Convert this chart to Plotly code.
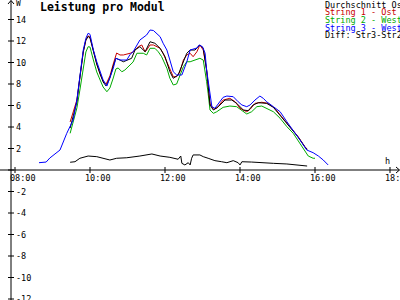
import plotly.graph_objects as go

# ---------------- data (time in decimal hours, power in W) ----------------
avg_t = [9.47, 9.55, 9.65, 9.73, 9.82, 9.89, 9.95, 10.0, 10.09, 10.18, 10.27, 10.35, 10.43, 10.53, 10.62,
         10.69, 10.8, 10.89, 11.11, 11.2, 11.33, 11.47, 11.6, 11.73, 11.87, 12.0, 12.13, 12.22, 12.35,
         12.49, 12.58, 12.67, 12.8, 12.93, 13.02, 13.11, 13.15, 13.2, 13.29, 13.42, 13.6, 13.78, 13.91,
         14.09, 14.22, 14.35, 14.49, 14.71, 14.89, 15.11, 15.33, 15.55, 15.73, 15.79]
avg_v = [3.9, 5.0, 6.33, 8.65, 10.98, 12.09, 12.42, 12.28, 10.98, 9.86, 8.93, 8.19, 7.81, 8.56, 9.67,
         10.39, 10.23, 10.07, 10.39, 11.16, 11.47, 11.0, 11.93, 11.79, 11.32, 10.54, 9.14, 8.53, 8.84,
         10.07, 10.86, 11.16, 11.16, 11.63, 11.32, 9.3, 7.81, 6.05, 5.58, 5.89, 6.51, 6.51, 6.2,
         5.58, 5.52, 6.05, 6.26, 6.2, 5.83, 4.93, 4.0, 3.07, 2.14, 1.9]

s1_t = [9.47, 9.55, 9.65, 9.73, 9.82, 9.89, 9.95, 10.0, 10.09, 10.18, 10.27, 10.35, 10.43, 10.53, 10.62,
        10.71, 10.8, 10.89, 11.07, 11.15, 11.25, 11.29, 11.38, 11.47, 11.51, 11.6, 11.69, 11.78, 11.87,
        11.95, 12.05, 12.13, 12.22, 12.31, 12.4, 12.49, 12.58, 12.67, 12.75, 12.85, 12.93, 13.02, 13.11,
        13.15, 13.2, 13.29, 13.38, 13.55, 13.73, 13.87, 14.0, 14.18, 14.27, 14.4, 14.58, 14.75, 14.93,
        15.11, 15.33, 15.55, 15.73, 15.79]
s1_v = [4.47, 5.4, 6.51, 8.56, 10.98, 12.09, 12.47, 12.37, 10.98, 9.86, 8.93, 8.28, 8.0, 8.74, 9.86,
        10.88, 10.7, 10.7, 10.86, 10.98, 11.35, 11.47, 11.63, 11.0, 11.16, 11.63, 11.63, 11.47, 11.32,
        10.86, 10.07, 9.3, 8.68, 8.68, 9.14, 10.23, 10.7, 10.86, 10.54, 11.0, 11.63, 11.16, 9.3,
        7.91, 6.2, 5.65, 5.74, 6.51, 6.67, 6.35, 5.74, 5.42, 5.65, 6.2, 6.3, 6.2, 5.74,
        4.96, 4.03, 3.1, 2.17, 1.95]

s2_t = [9.47, 9.55, 9.65, 9.73, 9.82, 9.89, 9.95, 10.0, 10.09, 10.18, 10.27, 10.35, 10.45, 10.53, 10.62,
        10.69, 10.75, 10.85, 10.93, 11.07, 11.15, 11.25, 11.42, 11.51, 11.6, 11.73, 11.82, 11.91, 12.05,
        12.13, 12.22, 12.31, 12.4, 12.49, 12.58, 12.67, 12.8, 12.93, 13.02, 13.07, 13.11, 13.15, 13.2,
        13.29, 13.38, 13.55, 13.73, 13.91, 14.09, 14.18, 14.31, 14.45, 14.58, 14.71, 14.89, 15.07,
        15.25, 15.42, 15.6, 15.73, 15.82, 15.95, 16.0]
s2_v = [3.41, 4.47, 5.77, 7.44, 9.61, 10.98, 11.47, 11.44, 10.23, 9.12, 8.37, 7.72, 7.28, 7.63, 8.56,
        9.4, 9.49, 9.14, 9.3, 9.77, 10.05, 10.86, 10.86, 10.7, 11.32, 11.32, 11.0, 10.54, 9.46,
        8.53, 7.91, 8.0, 8.84, 9.61, 10.07, 10.07, 10.23, 10.39, 10.23, 9.3, 8.21, 7.13, 5.58,
        5.27, 5.42, 5.83, 5.95, 5.89, 5.42, 5.21, 5.42, 5.89, 5.95, 5.74, 5.42, 4.81,
        4.03, 3.41, 2.48, 1.7, 1.3, 1.09, 1.09]

s3_t = [8.64, 8.83, 8.93, 9.2, 9.38, 9.55, 9.65, 9.73, 9.82, 9.89, 9.95, 10.0, 10.09, 10.18, 10.27,
        10.35, 10.45, 10.53, 10.62, 10.69, 10.8, 10.98, 11.07, 11.15, 11.25, 11.33, 11.51, 11.6, 11.69,
        11.78, 11.87, 11.95, 12.05, 12.13, 12.22, 12.31, 12.45, 12.58, 12.67, 12.85, 12.91, 13.0, 13.07,
        13.11, 13.15, 13.2, 13.25, 13.33, 13.42, 13.55, 13.65, 13.82, 13.95, 14.05, 14.18, 14.27, 14.4,
        14.53, 14.62, 14.71, 14.89, 15.07, 15.25, 15.42, 15.6, 15.78, 15.95, 16.09, 16.22, 16.35]
s3_v = [0.68, 0.74, 1.12, 1.86, 3.41, 4.65, 6.51, 8.84, 11.16, 12.25, 12.72, 12.62, 11.16, 10.07, 9.14,
        8.37, 7.81, 8.53, 9.46, 10.39, 10.23, 10.23, 10.76, 11.0, 11.63, 12.09, 12.56, 13.02, 12.98,
        12.72, 12.4, 11.79, 11.16, 10.23, 9.14, 8.84, 8.84, 10.05, 11.16, 11.35, 11.63, 11.47, 10.86,
        9.3, 8.21, 6.82, 5.89, 5.74, 6.2, 6.76, 6.88, 6.82, 6.35, 6.05, 5.89, 6.05, 6.51,
        6.88, 6.67, 6.35, 5.89, 5.42, 4.49, 3.72, 2.79, 1.86, 1.61, 1.3, 0.93, 0.47]

diff_t = [9.47, 9.6, 9.73, 9.95, 10.18, 10.35, 10.53, 10.71, 10.98, 11.33, 11.65, 11.87, 12.13, 12.35,
          12.42, 12.45, 12.53, 12.62, 12.67, 12.71, 12.75, 12.93, 13.02, 13.15, 13.33, 13.51, 13.65,
          13.82, 13.95, 14.0, 14.05, 14.31, 14.53, 14.89, 15.25, 15.6, 15.79]
diff_v = [0.72, 0.77, 1.09, 1.3, 1.24, 1.09, 0.93, 1.09, 1.14, 1.3, 1.49, 1.3, 1.18, 1.0,
          1.3, 0.62, 0.47, 0.68, 0.47, 1.09, 1.4, 1.4, 1.24, 1.09, 0.87, 0.77, 0.68,
          0.87, 0.68, 0.47, 0.77, 0.74, 0.68, 0.62, 0.56, 0.47, 0.37]

x_ticks = [8, 10, 12, 14, 16, 18]
x_labels = ["08:00", "10:00", "12:00", "14:00", "16:00", "18:00"]
y_ticks = [-12, -10, -8, -6, -4, -2, 0, 2, 4, 6, 8, 10, 12, 14]

legend_names = ["Durchschnitt Ost", "String 1 - Ost", "String 2 - West", "String 3 - West", "Diff: Str3-Str2"]
legend_colors = ["#000000", "#c80000", "#00aa00", "#0000ff", "#000000"]
title = "Leistung pro Modul"

# ---------------- layout geometry ----------------
W, H = 400, 300
PX_PER_H = 37.5
PX_PER_W = 10.75
X0 = 7.6                      # hours at left page edge
Y_TOP = 15.814                # W at top page edge
XR = [X0, X0 + W / PX_PER_H]
YR = [Y_TOP - H / PX_PER_W, Y_TOP]
AXIS_X = X0 + 11 / PX_PER_H   # y-axis position (hours)

FONT = "DejaVu Sans Mono"

fig = go.Figure()
series = [(avg_t, avg_v, legend_colors[0]), (s1_t, s1_v, legend_colors[1]),
          (s2_t, s2_v, legend_colors[2]), (s3_t, s3_v, legend_colors[3]),
          (diff_t, diff_v, legend_colors[4])]
# draw order: green, red, black, blue on top roughly
for idx in [2, 1, 0, 3, 4]:
    t, v, c = series[idx]
    fig.add_trace(go.Scatter(x=t, y=v, mode="lines", line=dict(color=c, width=1),
                             hoverinfo="skip", showlegend=False))

shapes = []
# axes lines
shapes.append(dict(type="line", xref="x", yref="y", x0=AXIS_X, x1=AXIS_X, y0=YR[0], y1=YR[1] - 0.05,
                   line=dict(color="black", width=1)))
shapes.append(dict(type="line", xref="x", yref="y", x0=XR[0], x1=XR[1] - 0.02, y0=0, y1=0,
                   line=dict(color="black", width=1)))
# arrowheads
shapes.append(dict(type="path", xref="paper", yref="paper",
                   path=f"M {8/W} {1-4/H} L {11/W} {1-0.5/H} L {14/W} {1-4/H}",
                   line=dict(color="black", width=1)))
y0px = (Y_TOP - 0) * PX_PER_W
shapes.append(dict(type="path", xref="paper", yref="paper",
                   path=f"M {396/W} {1-(y0px-3)/H} L {399.5/W} {1-y0px/H} L {396/W} {1-(y0px+3)/H}",
                   line=dict(color="black", width=1)))
# y ticks
for v in y_ticks:
    shapes.append(dict(type="line", xref="paper", yref="y", x0=8 / W, x1=14 / W, y0=v, y1=v,
                       line=dict(color="black", width=1)))
# x ticks
for t in x_ticks:
    shapes.append(dict(type="line", xref="x", yref="y", x0=t, x1=t,
                       y0=-3 / PX_PER_W, y1=3 / PX_PER_W, line=dict(color="black", width=1)))

ann = []
for v in y_ticks:
    if v == 0:
        continue
    ann.append(dict(x=AXIS_X + 3.5 / PX_PER_H, y=v, xref="x", yref="y", text=str(v).replace("-", "-"),
                    showarrow=False, xanchor="left", yanchor="middle",
                    font=dict(family=FONT, size=8.5, color="black"), borderpad=0))
for t, lab in zip(x_ticks, x_labels):
    ann.append(dict(x=t + 8 / PX_PER_H, y=-7.5 / PX_PER_W, xref="x", yref="y", text=lab,
                    showarrow=False, xanchor="center", yanchor="middle",
                    font=dict(family=FONT, size=8.5, color="black"), borderpad=0))
# legend text
for i, (name, col) in enumerate(zip(legend_names, legend_colors)):
    ypx = 4.7 + i * 7.65
    ann.append(dict(x=324 / W, y=1 - ypx / H, xref="paper", yref="paper", text=name,
                    showarrow=False, xanchor="left", yanchor="middle",
                    font=dict(family=FONT, size=8.5, color=col), borderpad=0))
# title
ann.append(dict(x=39 / W, y=1 - 7 / H, xref="paper", yref="paper", text=f"<b>{title}</b>",
                showarrow=False, xanchor="left", yanchor="middle",
                font=dict(family=FONT, size=11.5, color="black"), borderpad=0))
# unit labels
ann.append(dict(x=15 / W, y=1 - 4 / H, xref="paper", yref="paper", text="W",
                showarrow=False, xanchor="left", yanchor="middle",
                font=dict(family=FONT, size=8, color="black"), borderpad=0))
ann.append(dict(x=387 / W, y=1 - 161 / H, xref="paper", yref="paper", text="h",
                showarrow=False, xanchor="center", yanchor="middle",
                font=dict(family=FONT, size=8.5, color="black"), borderpad=0))

fig.update_layout(
    width=W, height=H, margin=dict(l=0, r=0, t=0, b=0),
    paper_bgcolor="white", plot_bgcolor="white",
    xaxis=dict(range=XR, visible=False, fixedrange=True),
    yaxis=dict(range=YR, visible=False, fixedrange=True),
    shapes=shapes, annotations=ann, showlegend=False,
)

fig.write_html("out.html", config={"displayModeBar": False, "staticPlot": True})
